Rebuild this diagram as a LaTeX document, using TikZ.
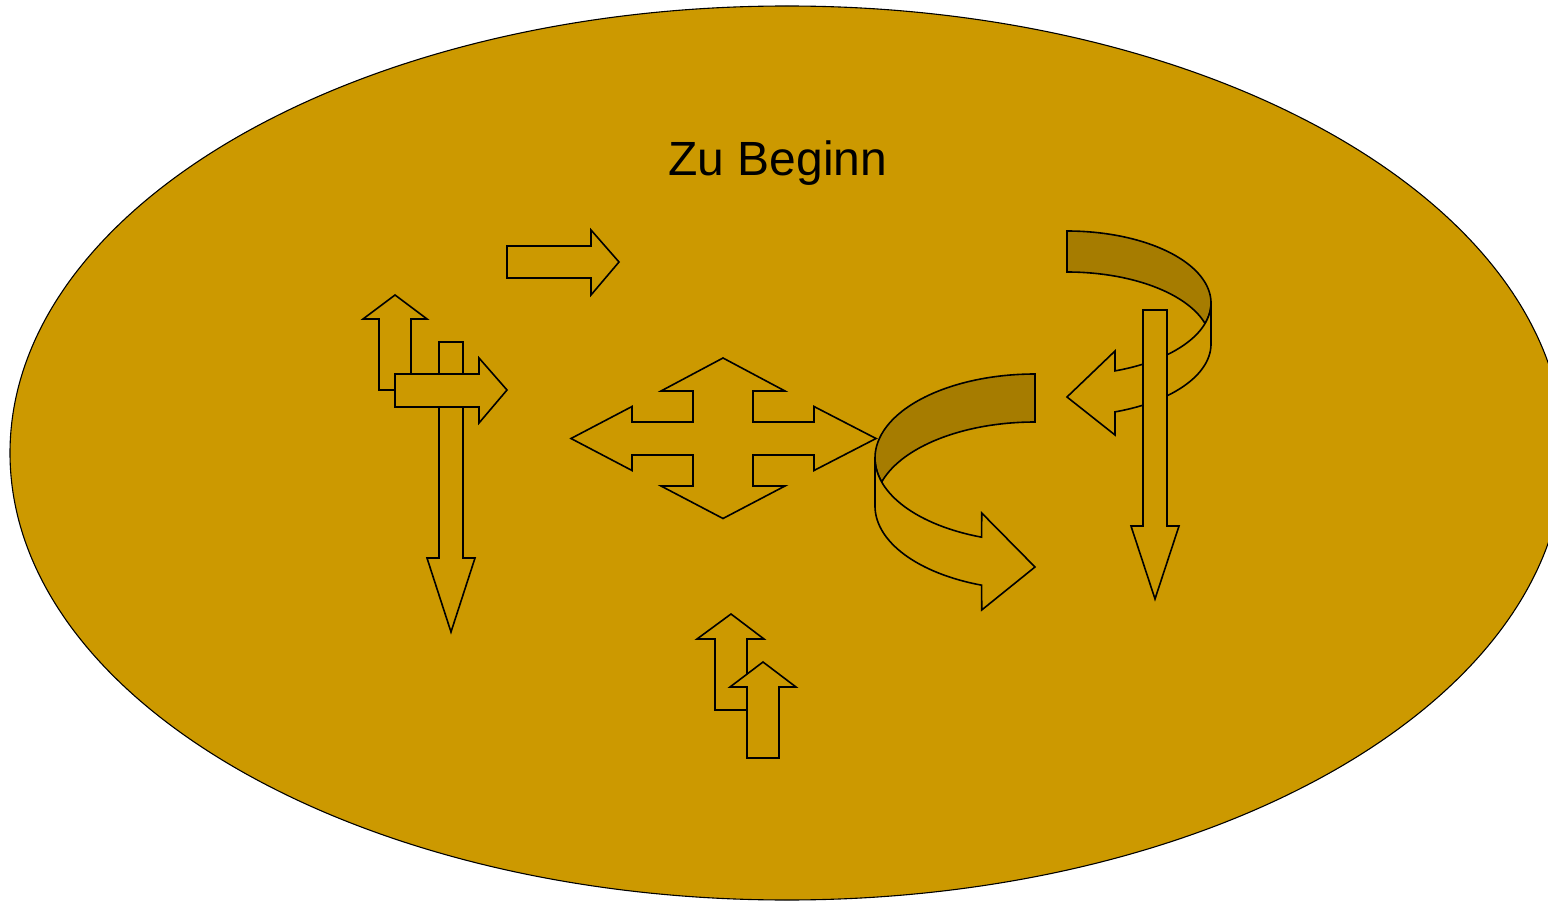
\documentclass[tikz,border=0pt]{standalone}
\usepackage{fontspec}
\setmainfont{Liberation Sans}
\definecolor{gold}{RGB}{204,153,0}
\definecolor{golddark}{RGB}{166,124,0}
\tikzset{
  shp/.style={draw=black, fill=gold, line width=1.6pt, line join=miter},
  shpdark/.style={draw=black, fill=golddark, line width=1.6pt, line join=miter},
}
\begin{document}
\begin{tikzpicture}[x=1pt,y=-1pt]
\useasboundingbox (0,0) rectangle (1548,901);
\clip (0,0) rectangle (1548,901);
% background ellipse
\draw[fill=gold, draw=black, line width=1.1pt] (787,453) ellipse [x radius=777, y radius=447];
% title
\node[anchor=base, inner sep=0pt, font=\fontsize{48}{58}\selectfont] (title) at (778,176) {Zu Beginn};
% left cluster
\draw[shp] (379,390) -- (379,319) -- (363,319) -- (395,295) -- (427,319) -- (411,319) -- (411,390) -- cycle;
\draw[shp] (439,342) -- (463,342) -- (463,558) -- (475,558) -- (451,632) -- (427,558) -- (439,558) -- cycle;
\draw[shp] (395,374) -- (479,374) -- (479,358) -- (507,390) -- (479,423) -- (479,407) -- (395,407) -- cycle;
% top right-pointing arrow
\draw[shp] (507,246) -- (591,246) -- (591,230) -- (619,262) -- (591,295) -- (591,278) -- (507,278) -- cycle;
% four-way arrow
\draw[shp] (571,438.5) -- (632,406.5) -- (632,422) -- (693,422) -- (693,391) -- (661,391) -- (723,358)
  -- (785,391) -- (753,391) -- (753,422) -- (814,422) -- (814,406.5) -- (876,438.5)
  -- (814,470.5) -- (814,455) -- (753,455) -- (753,486) -- (785,486) -- (723,518.5)
  -- (661,486) -- (693,486) -- (693,455) -- (632,455) -- (632,470.5) -- cycle;
% bottom arrows
\draw[shp] (715,710) -- (715,639) -- (697,639) -- (731,614) -- (764,639) -- (747,639) -- (747,710) -- cycle;
\draw[shp] (747,758) -- (747,687) -- (730,687) -- (763,662) -- (796,687) -- (779,687) -- (779,758) -- cycle;
% curved arrow (left)
\draw[shpdark] plot[domain=270:163.4, samples=60, variable=\t] ({1035+160*cos(\t)},{458+84*sin(\t)})
  -- plot[domain=196.6:270, samples=60, variable=\t] ({1035+160*cos(\t)},{506+84*sin(\t)}) -- cycle;
\draw[shp] plot[domain=163.4:109.47, samples=50, variable=\t] ({1035+160*cos(\t)},{458+84*sin(\t)})
  -- (981.7,513) -- (1035,567) -- (981.7,610)
  -- plot[domain=109.47:180, samples=60, variable=\t] ({1035+160*cos(\t)},{506+84*sin(\t)})
  -- (875,458) -- plot[domain=180:163.4, samples=10, variable=\t] ({1035+160*cos(\t)},{458+84*sin(\t)}) -- cycle;
% curved arrow (right)
\draw[shpdark] plot[domain=-90:16.54, samples=60, variable=\t] ({1067+144*cos(\t)},{303+72*sin(\t)})
  -- plot[domain=-16.54:-90, samples=60, variable=\t] ({1067+144*cos(\t)},{344+72*sin(\t)}) -- cycle;
\draw[shp] plot[domain=16.54:70.53, samples=50, variable=\t] ({1067+144*cos(\t)},{303+72*sin(\t)})
  -- (1115,351) -- (1067,397) -- (1115,435)
  -- plot[domain=70.53:0, samples=60, variable=\t] ({1067+144*cos(\t)},{344+72*sin(\t)})
  -- (1211,303) -- plot[domain=0:16.54, samples=10, variable=\t] ({1067+144*cos(\t)},{303+72*sin(\t)}) -- cycle;
% right down arrow
\draw[shp] (1143,310) -- (1167,310) -- (1167,526) -- (1179,526) -- (1155,599) -- (1131,526) -- (1143,526) -- cycle;
\end{tikzpicture}
\end{document}
